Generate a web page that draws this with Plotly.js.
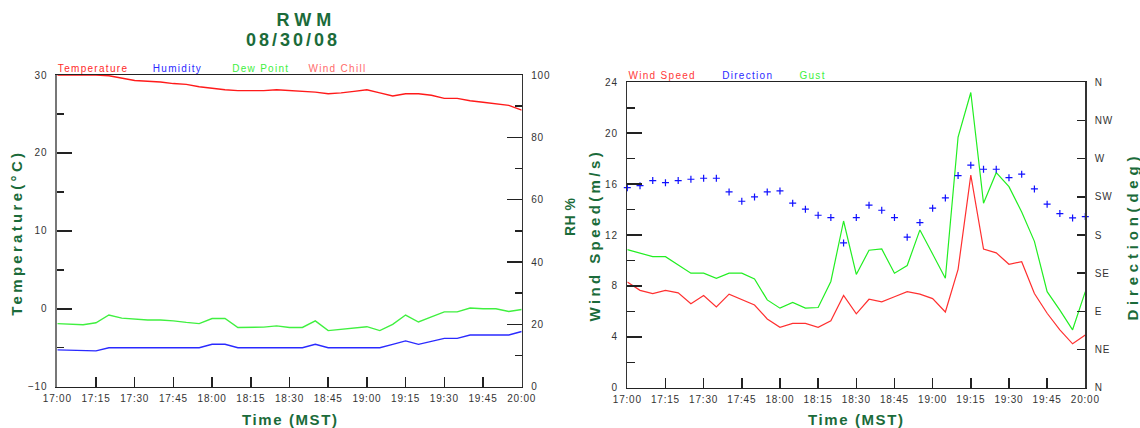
<!DOCTYPE html>
<html><head><meta charset="utf-8">
<script src="https://cdn.plot.ly/plotly-3.0.1.min.js"></script>
<style>html,body{margin:0;padding:0;background:#fff}#chart{width:1140px;height:428px}</style>
</head><body><div id="chart"></div>
<script>
const times = ['17:00','17:05','17:10','17:15','17:20','17:25','17:30','17:35','17:40','17:45','17:50','17:55',
  '18:00','18:05','18:10','18:15','18:20','18:25','18:30','18:35','18:40','18:45','18:50','18:55',
  '19:00','19:05','19:10','19:15','19:20','19:25','19:30','19:35','19:40','19:45','19:50','19:55','20:00'];
const temperature = [30.0,30.0,30.0,30.0,29.9,29.6,29.3,29.2,29.1,28.9,28.8,28.5,28.3,28.1,28.0,28.0,28.0,28.1,28.0,27.9,27.8,27.6,27.7,27.9,28.1,27.7,27.3,27.6,27.6,27.4,27.0,27.0,26.7,26.5,26.3,26.1,25.5];
const humidity = [11.8,11.7,11.6,11.5,12.5,12.5,12.5,12.5,12.5,12.5,12.5,12.5,13.6,13.6,12.5,12.5,12.5,12.5,12.5,12.5,13.6,12.5,12.5,12.5,12.5,12.5,13.6,14.7,13.6,14.6,15.5,15.5,16.6,16.6,16.6,16.6,17.7];
const dewPoint = [-1.9,-2.0,-2.05,-1.8,-0.8,-1.2,-1.35,-1.45,-1.45,-1.55,-1.75,-1.9,-1.25,-1.25,-2.4,-2.4,-2.35,-2.2,-2.4,-2.4,-1.55,-2.8,-2.65,-2.45,-2.3,-2.8,-2.0,-0.8,-1.7,-1.05,-0.4,-0.4,0.1,0.0,0.0,-0.35,-0.1];
const windSpeed = [8.3,7.65,7.4,7.65,7.45,6.6,7.25,6.35,7.35,6.95,6.5,5.4,4.75,5.05,5.05,4.75,5.25,7.25,5.8,6.95,6.75,7.15,7.55,7.35,7.0,5.95,9.3,16.7,10.9,10.6,9.7,9.9,7.4,5.85,4.55,3.45,4.15];
const gust = [10.85,10.55,10.3,10.3,9.65,9.0,9.0,8.6,9.0,9.0,8.55,6.9,6.25,6.7,6.25,6.3,8.35,13.1,8.9,10.8,10.9,9.0,9.6,12.4,10.5,8.6,19.7,23.2,14.5,16.9,15.8,13.8,11.5,7.55,6.1,4.55,7.55];
const direction = [235.8,238.2,244.1,241.7,244.1,245.7,246.9,246.9,230.8,219.8,224.9,230.8,232.0,217.5,210.4,203.3,200.5,170.6,200.5,215.1,209.2,200.5,177.4,194.6,211.6,223.7,250.0,262.3,257.5,257.5,247.6,251.7,234.3,216.3,205.2,200.1,201.7];
const dirTickVals = [0,45,90,135,180,225,270,315,360];
const dirTickText = ['N','NE','E','SE','S','SW','W','NW','N'];
const dirMajorVals = [90,180,270];
const chartDate = '2008-08-30';
const titleLines = ['RWM','08/30/08'];
const leftLegend = ['Temperature','Humidity','Dew Point','Wind Chill'];
const rightLegend = ['Wind Speed','Direction','Gust'];

const x = times.map(t => chartDate + ' ' + t);
const FONT = 'Liberation Sans, Arial, sans-serif';
const GREEN = '#1b6b3a';
const tickFont = {family: FONT, size: 10, color: '#333'};
const DT15 = 15 * 60 * 1000;

const traces = [
  {x: x, y: temperature, xaxis: 'x', yaxis: 'y', mode: 'lines', line: {color: '#ff1a1a', width: 1.4}, name: leftLegend[0]},
  {x: x, y: dewPoint, xaxis: 'x', yaxis: 'y', mode: 'lines', line: {color: '#40f040', width: 1.4}, name: leftLegend[2]},
  {x: x, y: humidity, xaxis: 'x', yaxis: 'y2', mode: 'lines', line: {color: '#2a2aff', width: 1.4}, name: leftLegend[1]},
  {x: x, y: gust, xaxis: 'x2', yaxis: 'y3', mode: 'lines', line: {color: '#22ee22', width: 1.2}, name: rightLegend[2]},
  {x: x, y: windSpeed, xaxis: 'x2', yaxis: 'y3', mode: 'lines', line: {color: '#ff3030', width: 1.2}, name: rightLegend[0]},
  {x: x, y: direction, xaxis: 'x2', yaxis: 'y4', mode: 'markers', cliponaxis: false,
   marker: {symbol: 'cross-thin', size: 5, line: {color: '#1010ff', width: 1.2}}, name: rightLegend[1]}
];

function xAxis(domain, anchor) {
  return {domain: domain, anchor: anchor, type: 'date', range: [x[0], x[x.length - 1]], tickformat: '%H:%M',
    tick0: x[0], dtick: DT15, ticks: 'inside', ticklen: 10, tickwidth: 1.5, tickcolor: '#222',
    showline: true, mirror: true, linecolor: '#222', linewidth: 1.5, showgrid: false, zeroline: false,
    tickfont: tickFont, ticklabelstandoff: 2, fixedrange: true};
}
function yAxis(o) {
  return Object.assign({ticks: 'inside', ticklen: 15, tickwidth: 1.5, tickcolor: '#222', showgrid: false,
    zeroline: false, showline: true, linecolor: '#333', linewidth: 1.5, tickfont: tickFont,
    ticklabelstandoff: 6}, o);
}

const P = (px) => px / 1140;
const Q = (py) => 1 - py / 428;

const annotations = [];
function ann(text, px, py, opts) {
  annotations.push(Object.assign({text: text, xref: 'paper', yref: 'paper', x: P(px), y: Q(py),
    xanchor: 'center', yanchor: 'middle', showarrow: false}, opts));
}
ann(titleLines[0], 306, 20, {font: {family: FONT, size: 18, color: GREEN, weight: 'bold'}});
ann(titleLines[1], 293, 40, {font: {family: FONT, size: 18, color: GREEN, weight: 'bold'}});
const legColorsL = ['#ff2a2a', '#2a2aff', '#40f040', '#ff6a6a'];
const legXL = [93.7, 177.5, 260.5, 337.5];
leftLegend.forEach((t, i) => ann(t, legXL[i], 68.5, {font: {family: FONT, size: 10, color: legColorsL[i]}}));
const legColorsR = ['#ff3a3a', '#2a2aff', '#40f040'];
const legXR = [661.7, 747.2, 812.5];
rightLegend.forEach((t, i) => ann(t, legXR[i], 75.5, {font: {family: FONT, size: 10, color: legColorsR[i]}}));
ann('Time (MST)', 290, 419, {font: {family: FONT, size: 15, color: GREEN, weight: 'bold'}});
ann('Time (MST)', 856, 419, {font: {family: FONT, size: 15, color: GREEN, weight: 'bold'}});
ann('Temperature(°C)', 16, 233, {textangle: -90, font: {family: FONT, size: 15, color: GREEN, weight: 'bold'}});
ann('RH %', 570, 217, {textangle: -90, font: {family: FONT, size: 14, color: GREEN, weight: 'bold'}});
ann('Wind Speed(m/s)', 594, 235, {textangle: -90, font: {family: FONT, size: 15, color: GREEN, weight: 'bold'}});
ann('Direction(deg)', 1133, 236, {textangle: -90, font: {family: FONT, size: 15, color: GREEN, weight: 'bold'}});

const layout = {
  width: 1140, height: 428, margin: {l: 0, r: 0, t: 0, b: 0}, showlegend: false,
  paper_bgcolor: '#ffffff', plot_bgcolor: '#ffffff',
  xaxis: xAxis([P(57.3), P(521.7)], 'y'),
  yaxis: yAxis({domain: [Q(386.7), Q(75)], anchor: 'x', range: [-10, 30], dtick: 10, linecolor: '#777', linewidth: 2,
    minor: {dtick: 5, ticks: 'inside', ticklen: 7, tickcolor: '#222', tickwidth: 1.5}}),
  yaxis2: yAxis({overlaying: 'y', side: 'right', anchor: 'x', range: [0, 100], dtick: 20,
    minor: {dtick: 10, ticks: 'inside', ticklen: 7, tickcolor: '#222', tickwidth: 1.5}}),
  xaxis2: xAxis([P(627.3), P(1085.3)], 'y3'),
  yaxis3: yAxis({domain: [Q(387.7), Q(82.3)], anchor: 'x2', range: [0, 24], dtick: 4,
    minor: {dtick: 2, ticks: 'inside', ticklen: 8, tickcolor: '#222', tickwidth: 1.5}}),
  yaxis4: yAxis({overlaying: 'y3', side: 'right', anchor: 'x2', range: [0, 360], tickmode: 'array',
    tickvals: dirTickVals, ticktext: dirTickText, ticklen: 8}),
  yaxis5: yAxis({overlaying: 'y3', side: 'right', anchor: 'x2', range: [0, 360], tickmode: 'array',
    tickvals: dirMajorVals, ticklen: 16, showticklabels: false, showline: false}),
  annotations: annotations
};

const spacing = {'RWM': '5px', '08/30/08': '3px', 'Time (MST)': '1.6px', 'Temperature(°C)': '3.3px',
  'RH %': '0.5px', 'Wind Speed(m/s)': '3.4px', 'Direction(deg)': '4.8px'};

Plotly.newPlot('chart', traces, layout, {staticPlot: true, displayModeBar: false}).then(function (gd) {
  gd.querySelectorAll('.annotation-text').forEach(function (el) {
    const t = el.textContent;
    el.style.letterSpacing = spacing[t] || '1.3px';
  });
  gd.querySelectorAll('.xtick text, .x2tick text, .ytick text, .y2tick text, .y3tick text, .y4tick text').forEach(function (el) {
    el.style.letterSpacing = '0.8px';
  });
});
</script></body></html>
